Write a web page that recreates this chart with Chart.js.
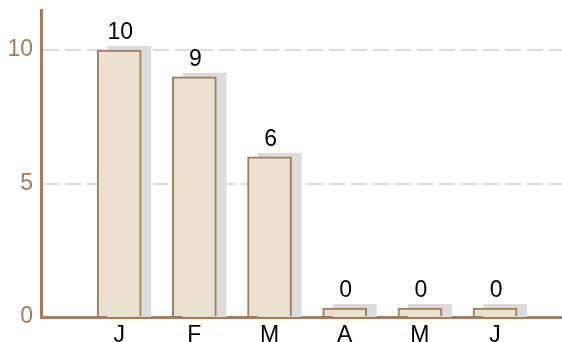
<!DOCTYPE html>
<html>
<head>
<meta charset="utf-8">
<script src="https://cdn.jsdelivr.net/npm/chart.js@4/dist/chart.umd.min.js"></script>
<style>
  body { margin: 0; background: #fff; }
  canvas { display: block; }
</style>
</head>
<body>
<canvas id="chart" width="562" height="342"></canvas>
<script>
const months = ['J', 'F', 'M', 'A', 'M', 'J'];
const counts = [10, 9, 6, 0, 0, 0];
const yTicks = [0, 5, 10];

const brown = '#a67b58';
const font = '"Liberation Sans", Arial, sans-serif';

// grey block behind each bar, shifted right and up
const shadowPlugin = {
    id: 'shadow',
    beforeDatasetsDraw(chart) {
        const ctx = chart.ctx;
        const base = chart.scales.y.getPixelForValue(0);
        ctx.save();
        ctx.fillStyle = '#dcdcdc';
        chart.getDatasetMeta(0).data.forEach((bar) => {
            const w = bar.width;
            ctx.fillRect(bar.x - w / 2 + 10, bar.y - 4, w, base - bar.y + 4);
        });
        ctx.restore();
    }
};

// value above each bar
const valuePlugin = {
    id: 'values',
    afterDatasetsDraw(chart) {
        const ctx = chart.ctx;
        ctx.save();
        ctx.fillStyle = '#000';
        ctx.font = '23px ' + font;
        ctx.textAlign = 'center';
        ctx.textBaseline = 'alphabetic';
        chart.getDatasetMeta(0).data.forEach((bar, i) => {
            ctx.fillText(String(counts[i]), bar.x + 1, bar.y - 11);
        });
        ctx.restore();
    }
};

const info = {
    datasets: [{
        data: counts.map((v, i) => ({ x: i, y: v })),
        backgroundColor: '#ebe1d0',
        borderColor: brown,
        borderWidth: 2,
        barThickness: 44,
        minBarLength: 9
    }]
};

const options = {
    responsive: false,
    animation: false,
    layout: { padding: 0 },
    scales: {
        x: {
            type: 'linear',
            offset: false,
            min: -1.04,
            max: 5.89,
            z: 1,
            grid: { display: false, drawTicks: false, offset: false },
            border: { color: brown, width: 3 },
            ticks: {
                stepSize: 1,
                includeBounds: false,
                autoSkip: false,
                maxRotation: 0,
                padding: 5,
                color: '#000',
                font: { size: 23, family: font },
                callback: (v) => (Number.isInteger(v) && v >= 0 && v < months.length) ? months[v] : ''
            },
            afterFit: (scale) => { scale.height = 25; scale.paddingLeft = 0; scale.paddingRight = 0; }
        },
        y: {
            min: 0,
            max: 11.5,
            afterBuildTicks: (scale) => { scale.ticks = yTicks.map((v) => ({ value: v })); },
            grid: {
                color: '#dcdcdc',
                lineWidth: 2,
                drawTicks: false
            },
            border: { color: brown, width: 3, dash: [16, 6] },
            ticks: {
                padding: 8,
                color: brown,
                font: { size: 23, family: font }
            },
            afterFit: (scale) => { scale.width = 41; scale.paddingTop = 10; scale.paddingBottom = 0; }
        }
    },
    plugins: {
        legend: { display: false },
        tooltip: { enabled: false }
    }
};

const chart = new Chart(document.getElementById('chart'), {
    type: 'bar',
    data: info,
    options,
    plugins: [shadowPlugin, valuePlugin]
});
</script>
</body>
</html>
